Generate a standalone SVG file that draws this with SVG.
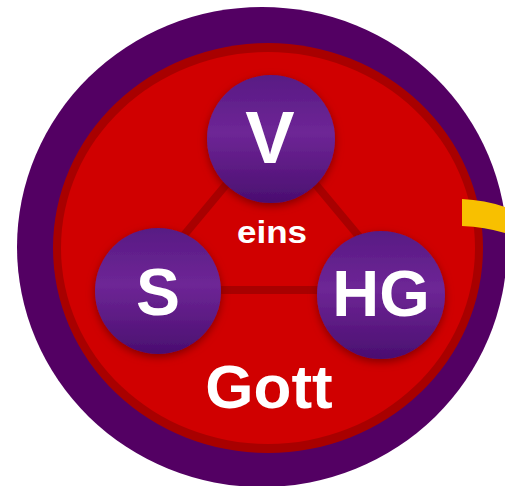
<svg xmlns="http://www.w3.org/2000/svg" width="505" height="486" viewBox="0 0 505 486">
<defs>
<linearGradient id="ng" x1="0" y1="0" x2="0" y2="1">
<stop offset="0" stop-color="#581a84"/>
<stop offset="0.45" stop-color="#6e2696"/>
<stop offset="1" stop-color="#4a0e70"/>
</linearGradient>
<filter id="sh" x="-30%" y="-30%" width="160%" height="160%">
<feGaussianBlur in="SourceAlpha" stdDeviation="4"/>
<feOffset dx="0" dy="3" result="b"/>
<feFlood flood-color="#7a0000" flood-opacity="0.9"/>
<feComposite in2="b" operator="in"/>
<feMerge><feMergeNode/><feMergeNode in="SourceGraphic"/></feMerge>
</filter>
<style>
.node{fill:url(#ng);filter:url(#sh)}
.lbl{font-family:"Liberation Sans",Arial,sans-serif;font-weight:bold;fill:#fff;text-anchor:middle}
.edge{stroke:#a80000;stroke-width:8;fill:none}
</style>
</defs>
<rect width="505" height="486" fill="#fff"/>
<ellipse cx="262" cy="247" rx="245" ry="240" fill="#530063"/>
<ellipse cx="268" cy="248" rx="215" ry="205" fill="#a80000"/>
<ellipse cx="268" cy="248" rx="207" ry="196" fill="#d00000"/>
<path d="M462,199 Q485,200 505,207 L505,233 Q485,227 462,226 Z" fill="#f8c000"/>
<g id="connectors">
<line class="edge" x1="230" y1="180" x2="180" y2="240"/>
<line class="edge" x1="312" y1="180" x2="362" y2="240"/>
<line class="edge" x1="210" y1="290" x2="330" y2="290"/>
</g>
<g id="node-V">
<circle class="node" cx="271" cy="139" r="64"/>
<text class="lbl" x="270" y="163" font-size="74">V</text>
</g>
<g id="node-S">
<circle class="node" cx="158" cy="291" r="63"/>
<text class="lbl" x="158" y="315" font-size="66">S</text>
</g>
<g id="node-HG">
<circle class="node" cx="381" cy="295" r="64"/>
<text class="lbl" x="381" y="316" font-size="65">HG</text>
</g>
<g id="label-eins">
<text class="lbl" x="272" y="243" font-size="32" textLength="70" lengthAdjust="spacingAndGlyphs">eins</text>
</g>
<g id="label-Gott">
<text class="lbl" x="269" y="408" font-size="62">Gott</text>
</g>
</svg>
